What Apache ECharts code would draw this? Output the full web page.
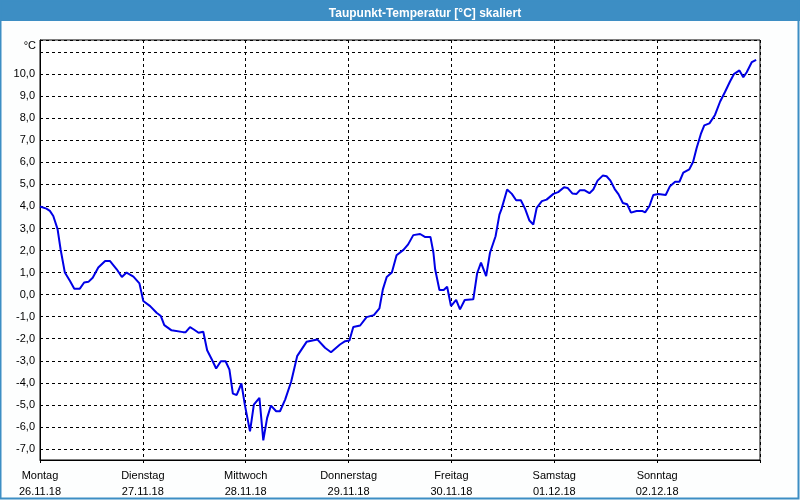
<!DOCTYPE html>
<html>
<head>
<meta charset="utf-8">
<script src="https://cdn.jsdelivr.net/npm/echarts@6/dist/echarts.min.js"></script>
<style>
html,body{margin:0;padding:0;background:#fff;}
#chart{width:800px;height:500px;}
</style>
</head>
<body>
<div id="chart"></div>
<script>
// Data
const titleText = 'Taupunkt-Temperatur [°C] skaliert';
const unitLabel = '°C';
const dayNames = ['Montag','Dienstag','Mittwoch','Donnerstag','Freitag','Samstag','Sonntag'];
const dayDates = ['26.11.18','27.11.18','28.11.18','29.11.18','30.11.18','01.12.18','02.12.18'];
// hours since Monday 26.11.18 00:00
const hours = [0,1.5,2.3,3.1,4.1,4.8,5.8,7.0,8.0,9.3,
  10.3,11.3,12.3,13.6,15.2,16.3,17.9,19.1,20.2,21.8,
  23.2,24.1,25.7,27.2,28.2,29.0,30.7,33.4,34.0,35.0,
  35.9,37.0,38.1,39.0,40.1,41.1,42.2,43.3,44.2,45.0,
  45.9,47.0,47.8,49.0,49.9,51.2,52.1,53.0,53.9,55.1,
  56.0,57.2,58.6,60.0,62.2,64.7,66.5,67.9,70.0,71.2,
  72.2,73.1,74.7,76.2,77.9,79.2,80.0,80.9,82.1,83.2,
  84.8,85.9,87.1,88.7,89.8,91.1,91.8,92.2,93.2,94.2,
  95.0,95.9,97.1,98.0,99.1,101.1,102.0,102.9,104.1,105.0,
  106.3,107.2,107.7,109.0,110.1,111.1,112.2,113.2,114.2,115.1,
  115.9,117.1,118.2,119.8,120.9,122.3,123.1,124.2,125.2,126.0,
  127.0,128.2,129.1,130.1,131.3,132.2,133.1,134.1,135.0,136.0,
  137.0,137.9,139.2,140.6,141.2,142.2,143.1,144.3,146.0,147.0,
  148.2,149.2,150.1,151.5,152.4,153.2,154.2,155.0,156.2,157.5,
  158.7,159.8,161.0,161.9,163.2,164.1,164.9,166.1,167.1];
const dewPoint = [4.0,3.9,3.8,3.57,2.97,2.06,1.0,0.62,0.27,0.27,
  0.55,0.58,0.77,1.23,1.53,1.53,1.15,0.80,1.0,0.82,
  0.51,-0.29,-0.52,-0.82,-0.97,-1.38,-1.62,-1.7,-1.7,-1.47,
  -1.58,-1.73,-1.68,-2.52,-2.94,-3.35,-3.02,-3.02,-3.4,-4.49,
  -4.55,-4.03,-5.0,-6.2,-4.99,-4.68,-6.61,-5.59,-5.03,-5.29,
  -5.29,-4.76,-3.95,-2.79,-2.14,-2.03,-2.41,-2.61,-2.26,-2.11,
  -2.08,-1.47,-1.40,-1.02,-0.93,-0.62,0.24,0.8,1.0,1.79,
  2.03,2.28,2.7,2.75,2.62,2.62,1.9,1.15,0.21,0.21,
  0.36,-0.52,-0.24,-0.67,-0.24,-0.21,0.97,1.45,0.84,1.9,
  2.65,3.63,3.89,4.77,4.57,4.28,4.28,3.89,3.36,3.18,
  3.94,4.24,4.31,4.57,4.65,4.87,4.84,4.59,4.57,4.74,
  4.74,4.6,4.77,5.17,5.4,5.37,5.17,4.79,4.55,4.16,
  4.1,3.72,3.79,3.79,3.73,4.02,4.52,4.56,4.52,4.92,
  5.12,5.12,5.53,5.68,6.03,6.64,7.29,7.68,7.77,8.15,
  8.76,9.18,9.67,10.0,10.17,9.86,10.09,10.55,10.65];
const yLabelMin = -7;
const yLabelMax = 10;

const seriesData = hours.map((h, i) => [h, dewPoint[i]]);
const FONT = '"Liberation Sans", "DejaVu Sans", sans-serif';

const chart = echarts.init(document.getElementById('chart'), null, {renderer: 'canvas'});
chart.setOption({
  animation: false,
  backgroundColor: '#fdfefe',
  title: {
    text: titleText,
    left: 420,
    top: 3,
    textAlign: 'center',
    textStyle: {color: '#ffffff', fontSize: 12, fontWeight: 'bold', fontFamily: FONT}
  },
  graphic: [
    {type: 'rect', z: -10, shape: {x: 0, y: 0, width: 800, height: 21}, style: {fill: '#3d8ec4'}},
    {type: 'rect', z: 100, shape: {x: 0.5, y: 0.5, width: 798, height: 498}, style: {fill: null, stroke: '#3d8ec4', lineWidth: 2}},
    {type: 'text', z: 10, x: 36, y: 46, style: {text: unitLabel, align: 'right', verticalAlign: 'middle', fill: '#000', font: '11px ' + FONT}}
  ],
  grid: {
    left: 40, right: 40, top: 40, bottom: 40,
    containLabel: false,
    outerBoundsMode: 'none',
    show: true,
    borderColor: '#000',
    borderWidth: 1,
    backgroundColor: '#ffffff'
  },
  xAxis: {
    type: 'value',
    min: 0,
    max: 168,
    interval: 24,
    axisLine: {show: true, onZero: false, lineStyle: {color: '#000', width: 1}},
    axisTick: {show: true, length: 3, lineStyle: {color: '#000'}},
    splitLine: {show: true, lineStyle: {color: '#000', type: [3, 3], width: 1}},
    axisLabel: {
      show: true,
      margin: 8,
      color: '#000',
      fontSize: 11,
      fontFamily: FONT,
      lineHeight: 16,
      formatter: function (v) {
        const i = Math.round(v / 24);
        if (i >= dayNames.length) return '';
        return dayNames[i] + '\n' + dayDates[i];
      }
    }
  },
  yAxis: {
    type: 'value',
    min: -7.5,
    max: 11.55,
    splitNumber: 20,
    minInterval: 1,
    maxInterval: 1,
    axisLine: {show: true, onZero: false, lineStyle: {color: '#000', width: 1}},
    axisTick: {show: false},
    splitLine: {show: true, lineStyle: {color: '#000', type: [3, 3], width: 1}},
    axisLabel: {
      show: true,
      margin: 5,
      color: '#000',
      fontSize: 11,
      fontFamily: FONT,
      showMinLabel: false,
      showMaxLabel: false,
      formatter: function (v) {
        if (Math.abs(v - Math.round(v)) > 1e-6) return '';
        if (v < yLabelMin || v > yLabelMax) return '';
        return v.toFixed(1).replace('.', ',');
      }
    }
  },
  series: [{
    type: 'line',
    data: seriesData,
    showSymbol: false,
    symbol: 'none',
    smooth: false,
    lineStyle: {color: '#0000e6', width: 2},
    z: 5
  }]
});
</script>
</body>
</html>
